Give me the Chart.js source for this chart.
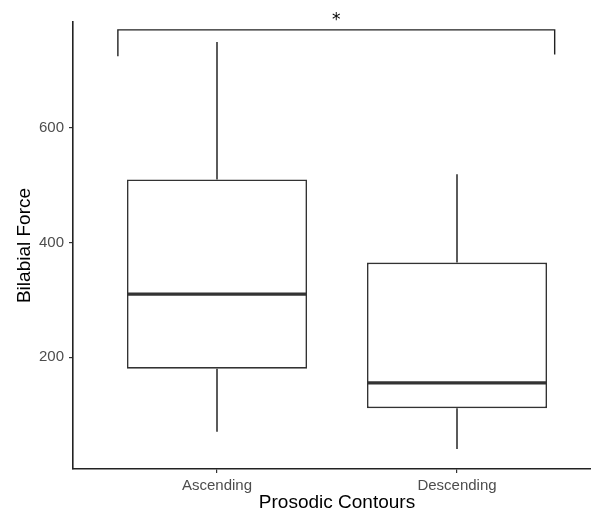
<!DOCTYPE html>
<html>
<head>
<meta charset="utf-8">
<script src="https://cdn.jsdelivr.net/npm/chart.js@4"></script>
<style>
  body { margin: 0; background: #fff; }
  #clip { width: 591px; height: 514px; overflow: hidden; }
  #wrap { width: 601px; height: 514px; position: relative; }
</style>
</head>
<body>
<div id="clip"><div id="wrap"><canvas id="boxChart"></canvas></div></div>
<script>
// カテゴリと箱ひげ図の値
const categories = ['Ascending', 'Descending'];
const whiskerLow = [70, 40];
const q1 = [180, 111];
const median = [310, 155];
const q3 = [510, 365];
const whiskerHigh = [750, 519];
const yTicks = [200, 400, 600];

// 有意差ブラケット (値の座標)
const bracketX = [0.587, 2.407];
const bracketTop = 771;
const bracketLegs = [725, 728];
const sigLabel = '*';
const sigLabelY = 780;

const lineColor = '#333333';
const halfBox = 0.375;

// 箱 (浮動バー)
const datasets = [{
    type: 'bar',
    data: categories.map((c, i) => ({ x: i + 1, y: [q1[i], q3[i]] })),
    backgroundColor: '#ffffff',
    borderColor: lineColor,
    borderWidth: 1.6,
    borderSkipped: false,
    barPercentage: 0.75,
    categoryPercentage: 1,
    order: 2
}];

// ひげと中央値の線
const lineStyle = { type: 'line', borderColor: lineColor, pointRadius: 0, fill: false, order: 1 };
categories.forEach((c, i) => {
    datasets.push({ ...lineStyle, borderWidth: 1.6, data: [{ x: i + 1, y: q3[i] }, { x: i + 1, y: whiskerHigh[i] }] });
    datasets.push({ ...lineStyle, borderWidth: 1.6, data: [{ x: i + 1, y: q1[i] }, { x: i + 1, y: whiskerLow[i] }] });
    datasets.push({ ...lineStyle, borderWidth: 3.2, data: [{ x: i + 1 - halfBox, y: median[i] }, { x: i + 1 + halfBox, y: median[i] }] });
});
// ブラケット
datasets.push({
    ...lineStyle, borderWidth: 1.4, borderColor: '#222',
    data: [
        { x: bracketX[0], y: bracketLegs[0] },
        { x: bracketX[0], y: bracketTop },
        { x: bracketX[1], y: bracketTop },
        { x: bracketX[1], y: bracketLegs[1] }
    ]
});

// アスタリスクを描く
const sigPlugin = {
    id: 'sigPlugin',
    afterDatasetsDraw(chart) {
        const { ctx, scales: { x, y } } = chart;
        ctx.save();
        ctx.fillStyle = '#000';
        ctx.font = '17px "DejaVu Sans"';
        ctx.textAlign = 'center';
        ctx.textBaseline = 'alphabetic';
        ctx.fillText(sigLabel, x.getPixelForValue((bracketX[0] + bracketX[1]) / 2), y.getPixelForValue(sigLabelY));
        ctx.restore();
    }
};

const tickFont = { family: 'Liberation Sans', size: 15 };
const titleFont = { family: 'Liberation Sans', size: 19 };

new Chart(document.getElementById('boxChart'), {
    type: 'bar',
    data: { datasets },
    options: {
        responsive: true,
        maintainAspectRatio: false,
        animation: false,
        layout: { padding: { top: 22, left: 0, right: 0, bottom: 0 } },
        plugins: { legend: { display: false }, tooltip: { enabled: false } },
        scales: {
            x: {
                type: 'linear',
                min: 0.4,
                max: 2.6,
                offset: false,
                afterBuildTicks: axis => { axis.ticks = categories.map((c, i) => ({ value: i + 1 })); },
                afterFit: axis => { axis.height = 45; },
                ticks: {
                    autoSkip: false,
                    maxRotation: 0,
                    padding: 4,
                    color: '#4d4d4d',
                    font: tickFont,
                    callback: v => categories[v - 1]
                },
                grid: { offset: false, drawOnChartArea: false, tickLength: 4, color: lineColor, lineWidth: 1.2 },
                border: { display: true, color: '#222', width: 1.6 },
                title: { display: true, text: 'Prosodic Contours', color: '#000', font: titleFont, padding: { top: 0, bottom: 0 } }
            },
            y: {
                min: 4.9,
                max: 784.7,
                afterBuildTicks: axis => { axis.ticks = yTicks.map(v => ({ value: v })); },
                afterFit: axis => { axis.width = 73; },
                ticks: { padding: 5, color: '#4d4d4d', font: tickFont },
                grid: { drawOnChartArea: false, tickLength: 4, color: lineColor, lineWidth: 1.2 },
                border: { display: true, color: '#222', width: 1.6 },
                title: { display: true, text: 'Bilabial Force', color: '#000', font: titleFont, padding: { top: 13, bottom: 0 } }
            }
        }
    },
    plugins: [sigPlugin]
});
</script>
</body>
</html>
